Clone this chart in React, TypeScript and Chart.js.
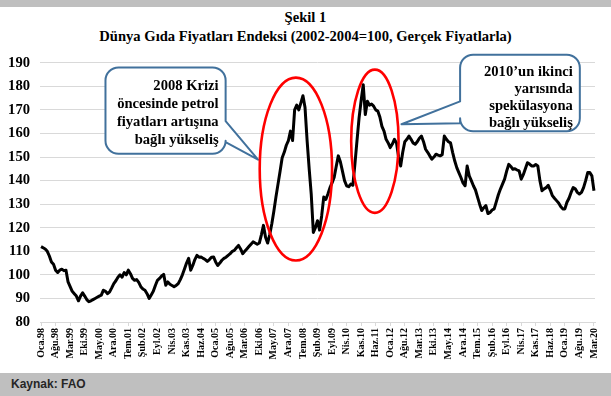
import React, { useEffect, useRef } from 'react';
import { Chart, registerables } from 'chart.js';

Chart.register(...registerables);

// ---- Data ----
const MONTHS = ['Oca', 'Şub', 'Mar', 'Nis', 'May', 'Haz', 'Tem', 'Ağu', 'Eyl', 'Eki', 'Kas', 'Ara'];
const START_YEAR = 1998;
const LABEL_STEP = 7;

// Monthly real food price index, Oca.98 .. Mar.20
const FOOD_INDEX = [
  112, 111.5, 111, 110, 108, 105.5, 104.5, 102, 101, 102, 102.4, 101.8, // 1998
  102, 97, 95, 93, 92, 91, 89, 91, 92.4, 91, 89.5, 88.6, // 1999
  89, 89.5, 90, 90.5, 91, 91.4, 93.5, 93, 92, 92.8, 94.5, 96.3, // 2000
  97.5, 99, 100, 99, 101, 100, 102, 100.5, 98.5, 97.7, 98, 96.8, // 2001
  95, 94, 93.5, 92, 90, 91.5, 93, 95.5, 97.7, 98.5, 99.5, 100.2, // 2002
  95.6, 97, 96, 95.5, 95, 95.5, 96.3, 98, 100, 102.5, 105, 107, // 2003
  102, 104, 106.5, 108.3, 107.5, 107.6, 107, 106.5, 105.7, 106.5, 107.5, 107.6, // 2004
  105.5, 104, 105, 106.2, 107, 107.5, 108.3, 109, 110, 110.4, 111.5, 112.5, // 2005
  111, 109, 110, 111, 112, 113, 114, 113.5, 113, 113.5, 117, 121, // 2006
  116, 113.5, 117, 121.6, 127, 133, 138.5, 144, 149.7, 152, 155, 157, // 2007
  161, 157, 170, 172, 170, 173, 176, 171, 157, 145, 134, 118, // 2008
  120, 123, 119, 125, 133, 132, 134.3, 137, 139, 141.3, 146, 150.5, // 2009
  148, 144, 140, 137.8, 137.4, 138.5, 138, 147, 157, 166.6, 174, 180.7, // 2010
  168, 173.7, 172, 172.5, 171.6, 170, 169.5, 167, 163, 161, 157.5, 156, // 2011
  154, 155.5, 157.5, 156, 150, 146.2, 152, 156.5, 157.5, 158.9, 157.5, 156, // 2012
  155.4, 156.5, 158, 158.9, 156.5, 153.3, 152, 150.5, 149.1, 150, 151.2, 150.8, // 2013
  150.5, 151, 158.9, 157.5, 156.5, 156, 152, 148.4, 145.5, 143.4, 141.3, 139, // 2014
  137.8, 146.2, 142, 140, 137.8, 136, 133, 130, 127.3, 128.5, 129.4, 126, // 2015
  126.5, 127.5, 128, 131, 134, 136.4, 138.5, 140.6, 144, 146.9, 146, 144.8, // 2016
  145, 144.5, 144.1, 140.6, 142.5, 145, 147.6, 147, 146.2, 146.2, 146.8, 146.2, // 2017
  140, 135.7, 136.5, 137, 138, 136, 133.6, 132.5, 131.5, 130.5, 129, 128, // 2018
  128, 130.8, 132.5, 135, 137, 136.5, 135, 134.3, 135, 137, 140, 143.4, // 2019
  143.4, 142, 135.7, // 2020
];

const CATEGORIES = FOOD_INDEX.map((_, i) => {
  const yy = (START_YEAR + Math.floor(i / 12)) % 100;
  return `${MONTHS[i % 12]}.${String(yy).padStart(2, '0')}`;
});

const Y_MIN = 80;
const Y_MAX = 190;
const Y_STEP = 10;

const TITLE_LINES = ['Şekil 1', 'Dünya Gıda Fiyatları Endeksi (2002-2004=100, Gerçek Fiyatlarla)'];
const SOURCE = 'Kaynak: FAO';

const CALLOUT_1_TEXT = ['2008 Krizi', 'öncesinde petrol', 'fiyatları artışına', 'bağlı yükseliş'];
const CALLOUT_2_TEXT = ['2010’un ikinci', 'yarısında', 'spekülasyona', 'bağlı yükseliş'];

// Annotations anchored in data units (category index, index value)
const ELLIPSES = [
  { i: 122.6, v: 144.9, di: 17.4, dv: 38.8 },
  { i: 160.6, v: 156.7, di: 11.4, dv: 30.4 },
];

const CALLOUTS = [
  {
    lines: CALLOUT_1_TEXT,
    i0: 31, i1: 88.8, vTop: 188, vBot: 151.4,
    side: 'right', b1: 165.2, b2: 156.3, tipI: 104.4, tipV: 148.9,
    firstOffset: 19, spacing: 18, padRight: 7,
  },
  {
    lines: CALLOUT_2_TEXT,
    i0: 201.6, i1: 259.2, vTop: 193.4, vBot: 160.9,
    side: 'left', b1: 173.6, b2: 164.3, tipI: 173.4, tipV: 163.9,
    firstOffset: 17, spacing: 17, padRight: 7,
  },
];

const SERIF = "'Liberation Serif', 'Times New Roman', serif";
const GRID = '#d9d9d9';
const BORDER_BLUE = '#41719c';

function calloutPath(ctx: CanvasRenderingContext2D, x0: number, y0: number, x1: number, y1: number, r: number,
  side: string, b1: number, b2: number, tx: number, ty: number) {
  ctx.beginPath();
  ctx.moveTo(x0 + r, y0);
  ctx.lineTo(x1 - r, y0);
  ctx.arcTo(x1, y0, x1, y0 + r, r);
  if (side === 'right') {
    ctx.lineTo(x1, Math.min(b1, b2));
    ctx.lineTo(tx, ty);
    ctx.lineTo(x1, Math.max(b1, b2));
  }
  ctx.lineTo(x1, y1 - r);
  ctx.arcTo(x1, y1, x1 - r, y1, r);
  ctx.lineTo(x0 + r, y1);
  ctx.arcTo(x0, y1, x0, y1 - r, r);
  if (side === 'left') {
    ctx.lineTo(x0, Math.max(b1, b2));
    ctx.lineTo(tx, ty);
    ctx.lineTo(x0, Math.min(b1, b2));
  }
  ctx.lineTo(x0, y0 + r);
  ctx.arcTo(x0, y0, x0 + r, y0, r);
  ctx.closePath();
}

const annotationPlugin = {
  id: 'annotations',
  afterDatasetsDraw(chart: any) {
    const { ctx } = chart;
    const xs = chart.scales.x;
    const ys = chart.scales.y;
    const px = (i: number) => xs.getPixelForValue(i);
    const py = (v: number) => ys.getPixelForValue(v);
    ctx.save();

    for (const c of CALLOUTS) {
      const x0 = px(c.i0), x1 = px(c.i1), y0 = py(c.vTop), y1 = py(c.vBot);
      calloutPath(ctx, x0, y0, x1, y1, 13, c.side, py(c.b1), py(c.b2), px(c.tipI), py(c.tipV));
      ctx.fillStyle = '#ffffff';
      ctx.fill();
      ctx.lineWidth = 2;
      ctx.strokeStyle = BORDER_BLUE;
      ctx.lineJoin = 'round';
      ctx.stroke();
      ctx.fillStyle = '#000000';
      ctx.font = `bold 14.6px ${SERIF}`;
      ctx.textAlign = 'right';
      ctx.textBaseline = 'middle';
      c.lines.forEach((t, k) => {
        ctx.fillText(t, x1 - c.padRight, y0 + c.firstOffset + k * c.spacing);
      });
    }

    for (const e of ELLIPSES) {
      const cx = px(e.i), cy = py(e.v);
      const rx = Math.abs(px(e.i + e.di) - cx);
      const ry = Math.abs(py(e.v + e.dv) - cy);
      ctx.beginPath();
      ctx.ellipse(cx, cy, rx, ry, 0, 0, Math.PI * 2);
      ctx.strokeStyle = '#ff0000';
      ctx.lineWidth = 2.6;
      ctx.stroke();
    }
    ctx.restore();
  },
};

export default function App() {
  const canvasRef = useRef<HTMLCanvasElement | null>(null);

  useEffect(() => {
    if (!canvasRef.current) return;
    const chart = new Chart(canvasRef.current, {
      type: 'line',
      data: {
        labels: CATEGORIES,
        datasets: [
          {
            data: FOOD_INDEX,
            borderColor: '#000000',
            borderWidth: 3,
            pointRadius: 0,
            tension: 0,
            fill: false,
            borderJoinStyle: 'round',
          },
        ],
      },
      options: {
        responsive: false,
        animation: false,
        devicePixelRatio: 1,
        layout: { padding: { top: 17, right: 16, left: 0, bottom: 0 } },
        plugins: {
          legend: { display: false },
          tooltip: { enabled: false },
          title: { display: false },
        },
        scales: {
          x: {
            type: 'category',
            offset: true,
            afterFit: (s: any) => { s.height = 51; },
            grid: { drawOnChartArea: false, drawTicks: true, tickLength: 4, color: GRID },
            border: { display: true, color: GRID, width: 1 },
            ticks: {
              autoSkip: false,
              minRotation: 90,
              maxRotation: 90,
              padding: 2,
              color: '#000000',
              font: { family: SERIF, size: 10, weight: 'bold' },
              callback: function (this: any, value: any, index: number) {
                return index % LABEL_STEP === 0 ? this.getLabelForValue(value) : null;
              },
            },
          },
          y: {
            min: Y_MIN,
            max: Y_MAX,
            afterFit: (s: any) => { s.width = 40; },
            grid: { color: GRID, drawTicks: false, lineWidth: 1 },
            border: { display: false },
            ticks: {
              stepSize: Y_STEP,
              padding: 10,
              color: '#000000',
              font: { family: SERIF, size: 14.6, weight: 'bold' },
            },
          },
        },
      },
      plugins: [annotationPlugin],
    } as any);
    return () => chart.destroy();
  }, []);

  return (
    <div style={{ position: 'fixed', left: 0, top: 0, width: 611, height: 396, background: '#ffffff', overflow: 'hidden' }}>
      <div style={{ position: 'absolute', left: 0, top: 0, width: 611, height: 7, background: '#bfbfbf' }} />
      <div
        style={{
          position: 'absolute', left: 0, top: 8, width: 611, textAlign: 'center',
          fontFamily: SERIF, fontWeight: 'bold', fontSize: '14.6px', lineHeight: '19px', color: '#000',
        }}
      >
        {TITLE_LINES.map((t) => (<div key={t}>{t}</div>))}
      </div>
      <canvas ref={canvasRef} width={611} height={329} style={{ position: 'absolute', left: 0, top: 44, width: 611, height: 329 }} />
      <div
        style={{
          position: 'absolute', left: 0, top: 373, width: 611, height: 23, background: '#bfbfbf',
          fontFamily: "'Liberation Sans', Arial, sans-serif", fontWeight: 'bold', fontSize: '12px',
          lineHeight: '22px', color: '#262626', paddingLeft: 11, boxSizing: 'border-box',
        }}
      >
        {SOURCE}
      </div>
    </div>
  );
}
